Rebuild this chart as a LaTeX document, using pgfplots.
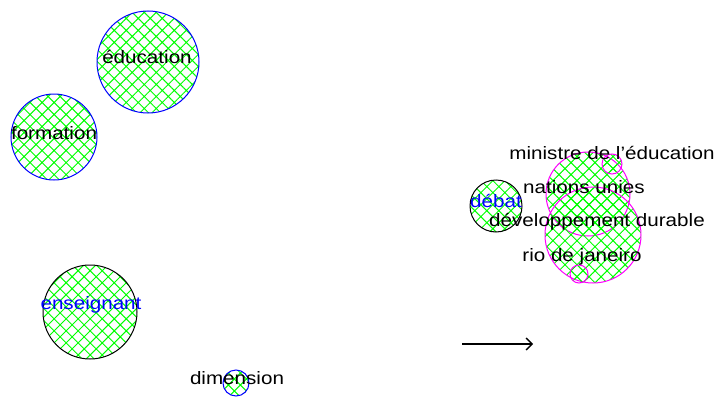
\documentclass[border=0pt]{standalone}
\usepackage{fontspec}
\setmainfont{Liberation Sans}[FakeStretch=1.15]
\usepackage{pgfplots}
\pgfplotsset{compat=1.18}
\usetikzlibrary{patterns.meta,arrows.meta}
\definecolor{hgreen}{RGB}{0,255,0}
\definecolor{cblue}{RGB}{0,0,255}
\definecolor{cmag}{RGB}{255,0,255}
\tikzset{bub/.style={only marks, mark=*, mark options={draw=#1, line width=1bp,
  pattern={Hatch[angle=45,distance=8.5bp,line width=1bp]}, pattern color=hgreen}}}
\begin{document}
\begin{tikzpicture}
\begin{axis}[anchor=south west, at={(0,0)}, scale only axis, width=718bp, height=397bp,
  xmin=0, xmax=718, ymin=0, ymax=397, y dir=reverse, hide axis, clip=false]
% blue-outlined bubbles
\addplot[bub=cblue, mark size=51bp] coordinates {(148,62)};
\addplot[bub=cblue, mark size=43bp] coordinates {(54,137)};
\addplot[bub=cblue, mark size=13bp] coordinates {(236,383)};
% black-outlined bubbles
\addplot[bub=black, mark size=47bp] coordinates {(90,312)};
\addplot[bub=black, mark size=26bp] coordinates {(496,206)};
% magenta cluster
\addplot[bub=cmag, mark size=42bp] coordinates {(588,194)};
\addplot[bub=cmag, mark size=48bp] coordinates {(593,235)};
\addplot[bub=cmag, mark size=10bp] coordinates {(612,164)};
\addplot[bub=cmag, mark size=9bp] coordinates {(579,274)};
% labels
\addplot[only marks, mark=none, nodes near coords, point meta=explicit symbolic,
  every node near coord/.append style={anchor=center, text=black, font=\fontsize{18}{20}\selectfont, inner sep=0pt}]
  table[col sep=comma, meta=label] {
x,y,label
147,57,éducation
54,133,formation
237,378,dimension
612,153,ministre de l'éducation
584,187,nations unies
597,222,développement durable
582,257,rio de janeiro
};
\addplot[only marks, mark=none, nodes near coords, point meta=explicit symbolic,
  every node near coord/.append style={anchor=center, text=cblue, font=\fontsize{18}{20}\selectfont, inner sep=0pt}]
  table[col sep=comma, meta=label] {
x,y,label
91,305,enseignant
496,201,débat
};
% arrow
\addplot[black, line width=1.3bp, -{Straight Barb[length=6bp, width=12bp]}] coordinates {(462,344) (533,344)};
\end{axis}
\pgfresetboundingbox
\path (0,0) rectangle (718bp,397bp);
\end{tikzpicture}
\end{document}
